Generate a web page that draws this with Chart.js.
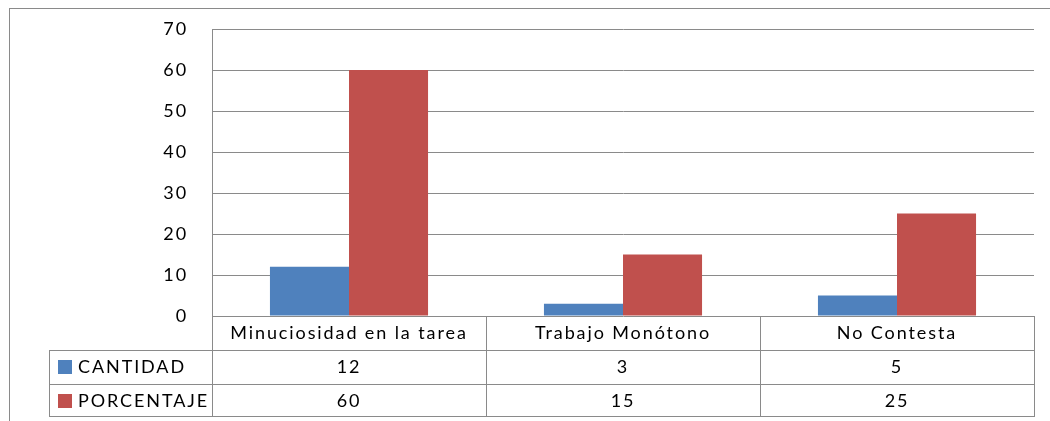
<!DOCTYPE html>
<html>
<head>
<meta charset="utf-8">
<script src="https://cdn.jsdelivr.net/npm/chart.js@4"></script>
<style>
  html, body { margin: 0; padding: 0; background: #fff; }
  #wrap { width: 1050px; height: 421px; }
</style>
</head>
<body>
<div id="wrap"><canvas id="chart"></canvas></div>
<script>
const categories = ["Minuciosidad en la tarea", "Trabajo Monótono", "No Contesta"];
const cantidad = [12, 3, 5];
const porcentaje = [60, 15, 25];
const seriesNames = ["CANTIDAD", "PORCENTAJE"];
const seriesColors = ["#4F81BD", "#C0504D"];

const FONT = "Lato, 'Open Sans', sans-serif";
const LINE = "#8a8a8a";
const SPACING = "1.9px";

// draws the outer frame and the data table under the plot (Excel style)
const dataTablePlugin = {
  id: "dataTable",
  beforeDraw(chart) {
    const { ctx } = chart;
    ctx.letterSpacing = SPACING; // wide Excel-like text, kept for tick labels too
    ctx.save();
    ctx.strokeStyle = LINE;
    ctx.lineWidth = 1;
    ctx.strokeRect(9.5, 8.5, 1200, 600);
    ctx.restore();
  },
  afterDraw(chart) {
    const { ctx, chartArea, scales } = chart;
    const xScale = scales.x;
    const n = categories.length;
    const step = (chartArea.right - chartArea.left) / n;
    const rowH = 34;
    const top = chartArea.bottom;
    const legendLeft = 49;
    const rowsTop = top + rowH;
    const bottom = rowsTop + rowH * 2 - 2;

    ctx.save();
    ctx.strokeStyle = LINE;
    ctx.lineWidth = 1;
    ctx.beginPath();
    // vertical boundaries
    for (let i = 0; i <= n; i++) {
      const x = Math.round(chartArea.left + i * step) + 0.5;
      ctx.moveTo(x, top);
      ctx.lineTo(x, bottom);
    }
    ctx.moveTo(legendLeft + 0.5, rowsTop);
    ctx.lineTo(legendLeft + 0.5, bottom);
    // horizontal lines
    [rowsTop, rowsTop + rowH, bottom].forEach(y => {
      ctx.moveTo(legendLeft, Math.round(y) + 0.5);
      ctx.lineTo(chartArea.right + 1, Math.round(y) + 0.5);
    });
    ctx.moveTo(chartArea.right + 0.5, top);
    ctx.lineTo(chartArea.right + 0.5, rowsTop);
    ctx.stroke();

    const rows = [cantidad, porcentaje];
    ctx.font = "18px " + FONT;
    ctx.letterSpacing = SPACING;
    ctx.textBaseline = "middle";
    rows.forEach((vals, r) => {
      const yMid = rowsTop + r * rowH + rowH / 2;
      ctx.fillStyle = seriesColors[r];
      ctx.fillRect(legendLeft + 9, yMid - 7, 14, 14);
      ctx.fillStyle = "#000";
      ctx.textAlign = "left";
      ctx.fillText(seriesNames[r], legendLeft + 29, yMid);
      ctx.textAlign = "center";
      vals.forEach((v, i) => {
        ctx.fillText(String(v), xScale.getPixelForValue(i), yMid);
      });
    });
    ctx.restore();
  }
};

new Chart(document.getElementById("chart"), {
  type: "bar",
  data: {
    labels: categories,
    datasets: [
      { label: seriesNames[0], data: cantidad, backgroundColor: seriesColors[0] },
      { label: seriesNames[1], data: porcentaje, backgroundColor: seriesColors[1] }
    ]
  },
  options: {
    responsive: true,
    maintainAspectRatio: false,
    animation: false,
    layout: { padding: { top: 29, right: 16, bottom: 71, left: 0 } },
    datasets: { bar: { categoryPercentage: 0.577, barPercentage: 1.0 } },
    plugins: { legend: { display: false }, tooltip: { enabled: false } },
    scales: {
      x: {
        grid: { display: false, drawTicks: false },
        border: { display: false },
        ticks: { font: { family: FONT, size: 18 }, color: "#000", padding: 6, maxRotation: 0 },
        afterFit(scale) { scale.height = 34; }
      },
      y: {
        min: 0,
        max: 70,
        ticks: { stepSize: 10, font: { family: FONT, size: 18 }, color: "#000", padding: 24 },
        grid: { color: LINE, drawTicks: false },
        border: { display: true, color: LINE },
        afterFit(scale) {
          scale.width = 212;
          scale.paddingTop = 0;
          scale.paddingBottom = 0;
        }
      }
    }
  },
  plugins: [dataTablePlugin]
});
</script>
</body>
</html>
